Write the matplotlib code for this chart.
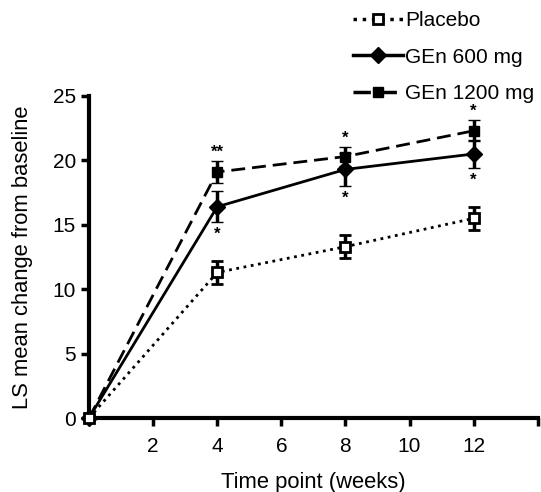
import matplotlib.pyplot as plt
from matplotlib.lines import Line2D

plt.rcParams['font.family'] = ['Liberation Sans', 'DejaVu Sans']

# weeks and LS mean change
weeks = [0, 4, 8, 12]
placebo = [0, 11.3, 13.3, 15.5]
placebo_se = [0, 0.9, 0.9, 0.9]
gen600 = [0, 16.4, 19.3, 20.5]
gen600_se = [0, 1.2, 1.3, 1.1]
gen1200 = [0, 19.1, 20.3, 22.3]
gen1200_se = [0, 0.85, 0.75, 0.8]

# significance marks above 1200 mg and below 600 mg
marks_1200 = ['', '**', '*', '*']
marks_600 = ['', '*', '*', '*']

labels = ['Placebo', 'GEn 600 mg', 'GEn 1200 mg']

fig = plt.figure(figsize=(5.41, 4.92), dpi=100)
ax = fig.add_axes([0.1645, 0.1504, 0.8295, 0.6545])

dash = (0, (5, 2.5))
styles = [
    dict(ls=':', marker='s', ms=7, mfc='white', mew=2),
    dict(ls='-', marker='D', ms=8, mfc='black', mew=1),
    dict(ls=dash, marker='s', ms=7, mfc='black', mew=1),
]
series = [(placebo, placebo_se), (gen600, gen600_se), (gen1200, gen1200_se)]
zs = [5, 4, 3]

handles = []
for (y, se), st, lab, z in zip(series, styles, labels, zs):
    ax.errorbar(weeks, y, yerr=se, color='black', lw=2, mec='black',
                capsize=4, capthick=2.5, elinewidth=2.5,
                clip_on=False, zorder=z, **st)
    handles.append(Line2D([], [], color='black', lw=2.5, mec='black', **st))

for w, y, se, m in zip(weeks, gen1200, gen1200_se, marks_1200):
    if m:
        ax.text(w, y + se + 0.1, m, ha='center', va='bottom', fontsize=12, fontweight='bold')
for w, y, se, m in zip(weeks, gen600, gen600_se, marks_600):
    if m:
        ax.text(w, y - se - 0.35, m, ha='center', va='top', fontsize=12, fontweight='bold')

ax.set_xlim(0, 14)
ax.set_ylim(0, 25)
ax.set_xticks([2, 4, 6, 8, 10, 12, 14])
ax.set_xticklabels(['2', '4', '6', '8', '10', '12', ''])
ax.set_yticks([0, 5, 10, 15, 20, 25])
ax.tick_params(width=2.5, length=6, labelsize=15)
ax.tick_params(axis='x', pad=8)
ax.tick_params(axis='y', pad=3.5)
for s in ['top', 'right']:
    ax.spines[s].set_visible(False)
for s in ['left', 'bottom']:
    ax.spines[s].set_linewidth(3)

ax.set_xlabel('Time point (weeks)', fontsize=15.8, labelpad=11)
ax.set_ylabel('LS mean change from baseline', fontsize=15.8, labelpad=14)

fig.legend(handles, labels, loc='upper left', bbox_to_anchor=(0.6525, 0.978),
           frameon=False, fontsize=15, handlelength=2.4, handletextpad=0.1,
           labelspacing=0.85, borderpad=0, borderaxespad=0)

fig.savefig('out.png', dpi=100)
